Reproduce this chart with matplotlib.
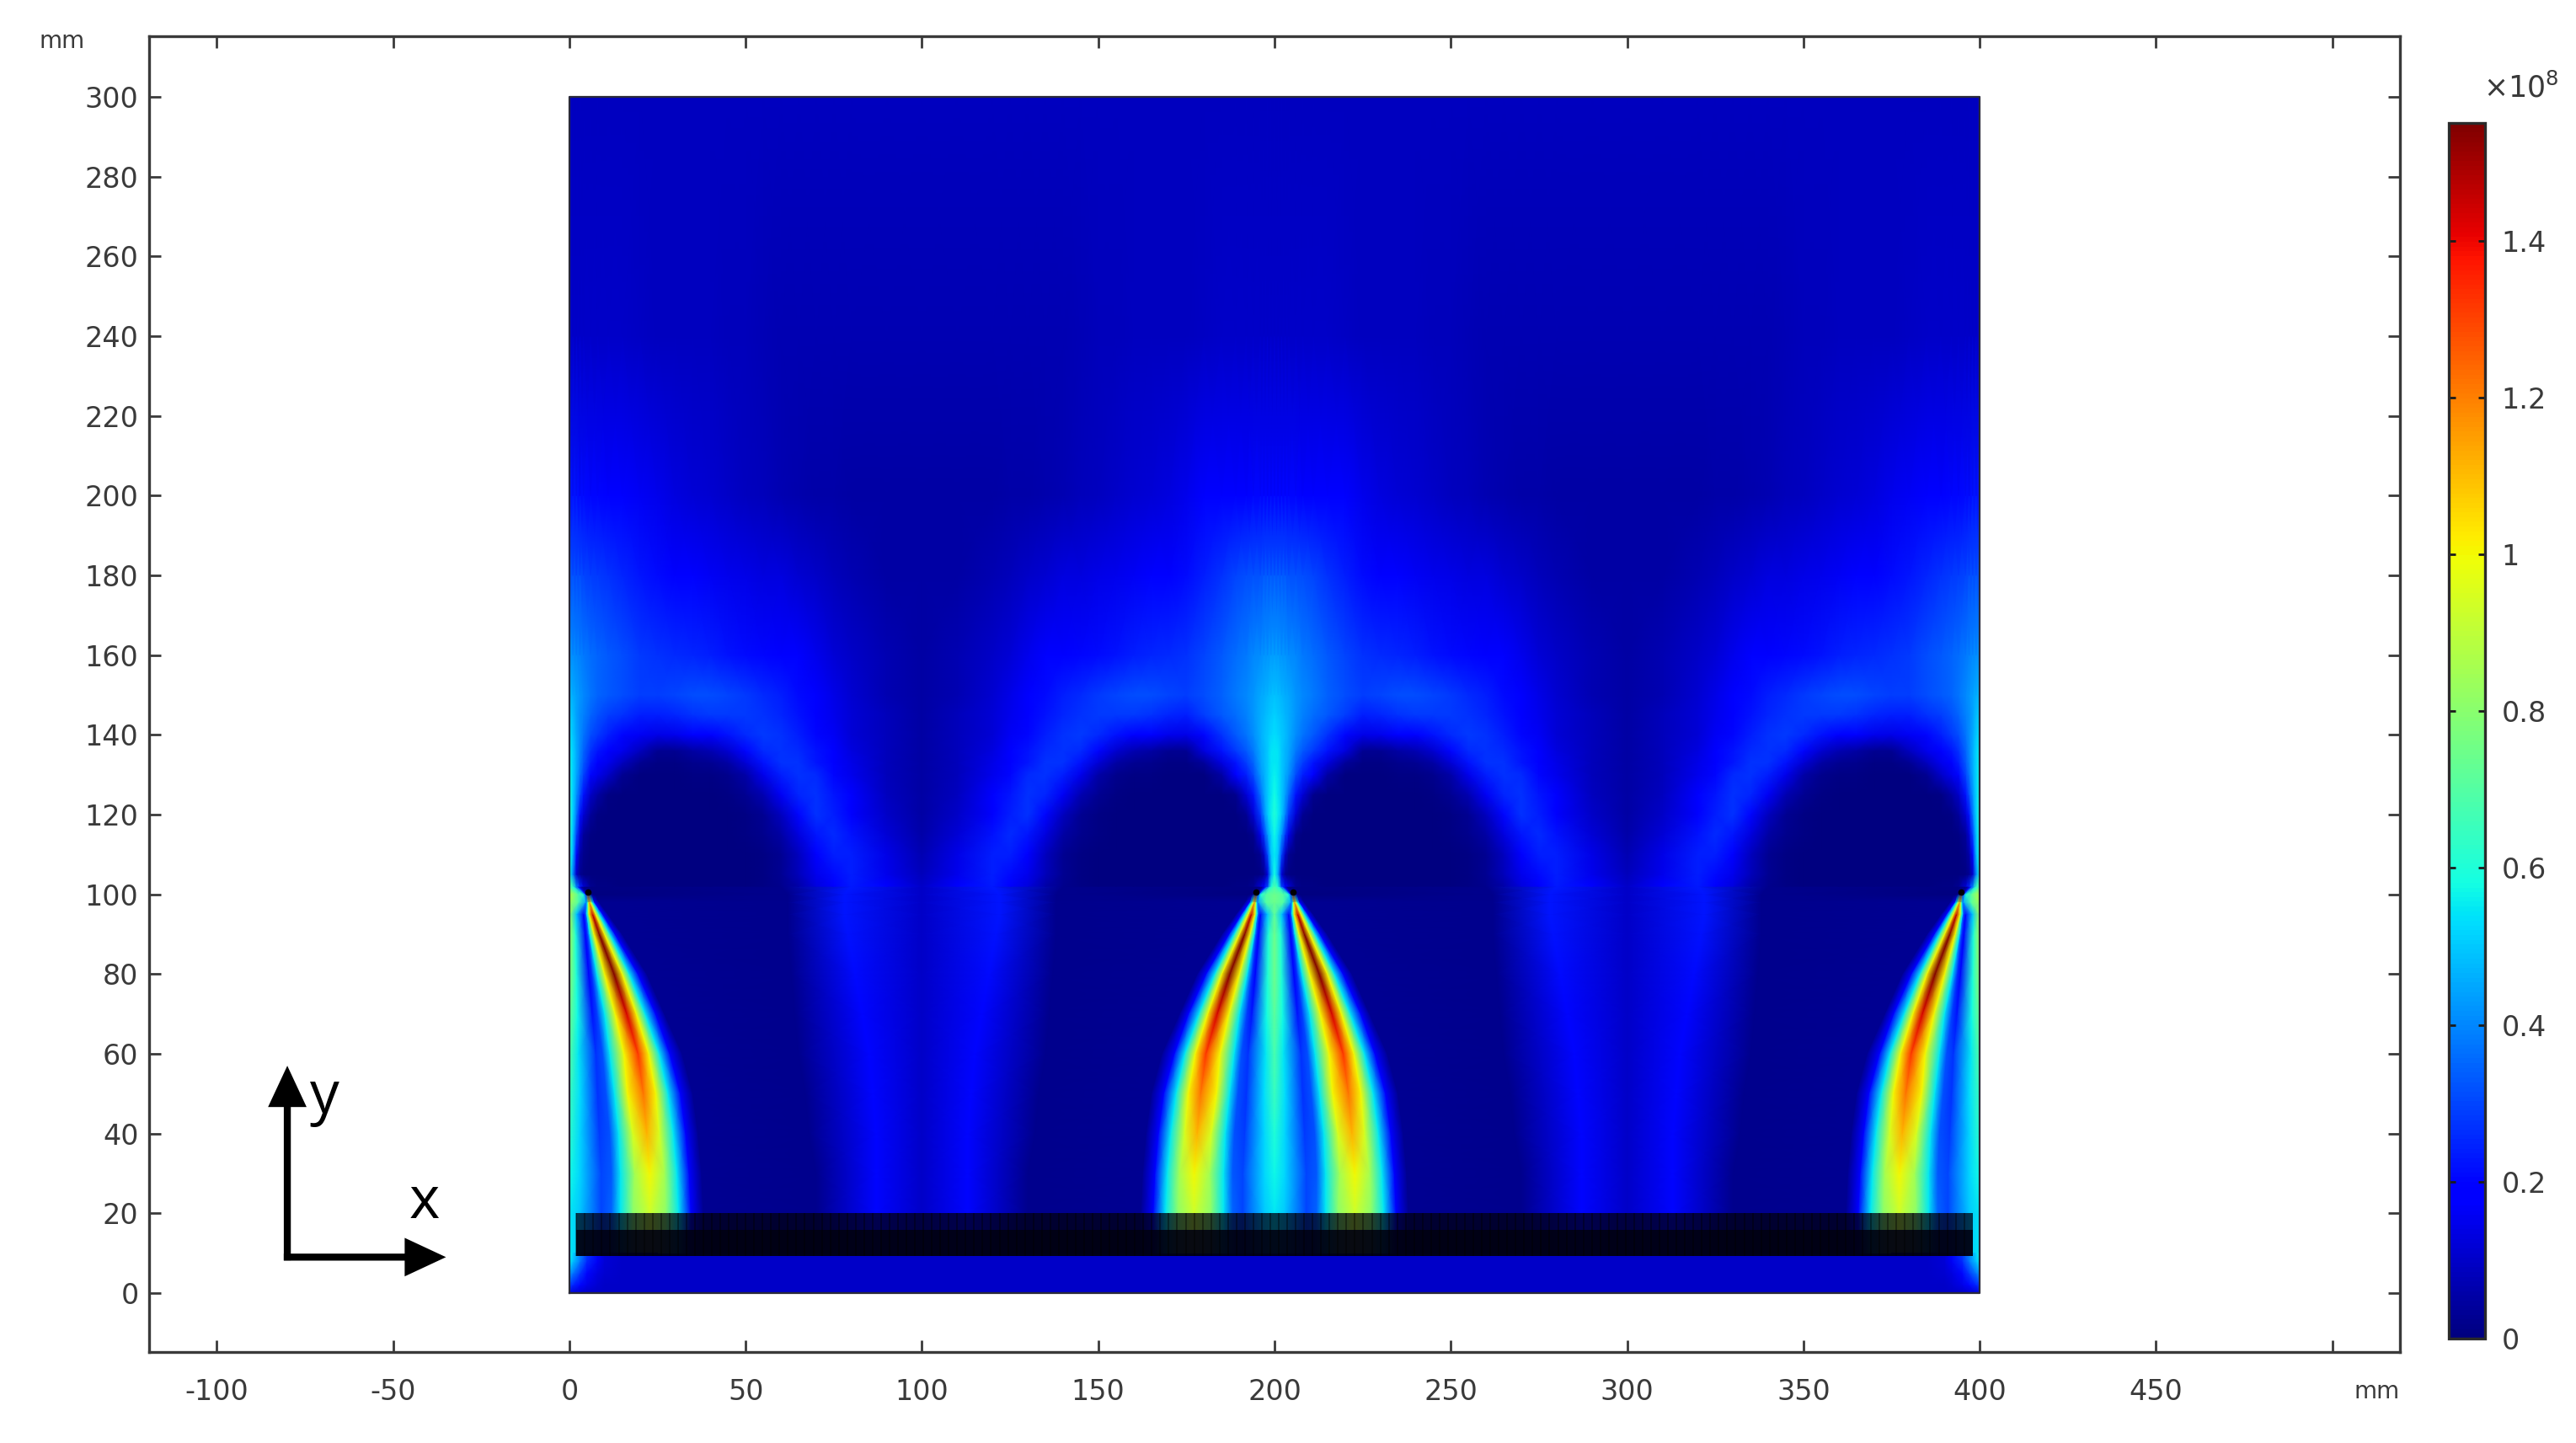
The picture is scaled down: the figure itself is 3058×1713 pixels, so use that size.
import numpy as np
import matplotlib
matplotlib.use('Agg')
import matplotlib.pyplot as plt

W, H = 3058, 1713
VMAX = 1.55
TEXT_COLOR = '#3a3a3a'

x_ticks = list(range(-100, 501, 50))
x_tick_labels = [str(v) for v in x_ticks[:-1]] + ['']
y_ticks = list(range(0, 301, 20))
cbar_ticks = [0, 0.2, 0.4, 0.6, 0.8, 1.0, 1.2, 1.4]
cbar_labels = ['0', '0.2', '0.4', '0.6', '0.8', '1', '1.2', '1.4']

# below y=102 the mesh follows the plume: each row lists where the features sit,
# as distance from the cell wall (x=0, 200, 400), then the value at each feature
lower_y = [10, 20, 30, 40, 50, 60, 70, 80, 90, 95, 98, 100, 102]
lower_pos = [
    [0, 3.0, 9.0, 12.0, 14.5, 18.0, 22.8, 27.5, 31.0, 34.5, 38.0, 70, 87, 100],
    [0, 3.0, 9.0, 12.0, 14.5, 18.0, 22.8, 27.5, 31.0, 34.5, 38.0, 70, 87, 100],
    [0, 3.0, 9.0, 12.0, 14.5, 18.5, 22.8, 27.0, 30.5, 34.0, 37.5, 70, 87, 100],
    [0, 3.0, 8.5, 11.5, 14.0, 18.0, 22.0, 25.5, 29.5, 33.0, 36.5, 68, 87, 100],
    [0, 3.0, 8.0, 10.5, 12.8, 16.5, 21.0, 24.5, 28.0, 31.5, 35.0, 67, 86, 100],
    [0, 2.5, 7.5, 9.5, 11.5, 15.5, 19.5, 22.5, 25.5, 28.5, 32.0, 65, 85, 100],
    [0, 2.3, 6.5, 8.0, 10.0, 13.0, 16.3, 19.0, 21.5, 24.5, 27.0, 64, 83, 100],
    [0, 2.0, 5.5, 6.5, 7.8, 10.0, 12.7, 15.0, 17.0, 19.5, 22.0, 63, 81, 100],
    [0, 1.8, 4.5, 5.2, 5.8, 7.0, 8.5, 10.0, 11.5, 13.0, 15.0, 62, 79, 100],
    [0, 2.0, 4.0, 4.6, 5.0, 5.6, 6.6, 7.5, 8.5, 9.5, 11.0, 62, 78, 100],
    [0, 2.5, 4.5, 4.9, 5.1, 5.4, 5.7, 6.1, 6.6, 7.2, 8.5, 62, 78, 100],
    [0, 2.5, 4.0, 4.6, 4.8, 5.0, 5.3, 5.6, 6.0, 6.5, 7.5, 62, 78, 100],
    [0, 1.0, 2.0, 2.5, 3.0, 3.5, 4.0, 4.5, 5.0, 5.5, 6.5, 60, 80, 100],
]
lower_vals = [
    [.50, .30, .35, .55, .80, .93, .80, .55, .17, .03, .02, .20, .10],
    [.50, .30, .35, .55, .80, .93, .80, .55, .17, .03, .02, .20, .10],
    [.52, .30, .33, .55, .85, 1.0, .85, .55, .17, .03, .02, .20, .10],
    [.52, .28, .32, .55, .95, 1.12, .95, .55, .17, .03, .02, .20, .10],
    [.53, .27, .32, .55, 1.0, 1.22, 1.0, .55, .17, .03, .02, .20, .10],
    [.55, .27, .32, .55, 1.0, 1.32, 1.0, .55, .17, .03, .02, .20, .10],
    [.58, .22, .30, .55, 1.0, 1.43, 1.0, .55, .17, .03, .02, .20, .10],
    [.60, .17, .28, .55, 1.0, 1.55, 1.0, .55, .17, .03, .02, .21, .10],
    [.60, .17, .28, .55, 1.0, 1.55, 1.0, .55, .17, .03, .02, .22, .10],
    [.50, .20, .30, .55, 1.0, 1.45, 1.0, .55, .17, .03, .02, .23, .10],
    [.70, .45, .40, .60, .90, 1.10, .90, .55, .17, .03, .02, .23, .10],
    [.70, .60, .30, .10, .02, 0, 0, 0, 0, 0, .02, .23, .10],
    [.60, .30, .20, .12, .06, .03, .02, .01, .01, .01, .02, .235, .10],
]
lower_core_mid = [.55, .55, .57, .60, .65, .68, .72, .75, .75, .72, .75, .75, .68]
lower_core_edge = [.55, .55, .58, .62, .65, .70, .75, .80, .85, .85, .85, .90, .72]

upper_y = [102, 105, 110, 115, 120, 125, 130, 133, 136, 140, 145, 150, 160, 180, 200, 240, 300]
near_d = [0, 1, 2, 3, 4, 6, 8, 11, 15, 20]
far_d = [25, 30, 35, 40, 45, 50, 55, 60, 65, 70, 75, 80, 90, 100]
near_mid = [
    [.68, .60, .30, .20, .12, .03, .01, .01, 0, 0],
    [.58, .45, .12, .03, .01, 0, 0, 0, 0, 0],
    [.55, .50, .30, .10, .03, 0, 0, 0, 0, 0],
    [.57, .52, .42, .28, .14, .02, 0, 0, 0, 0],
    [.60, .56, .50, .40, .28, .12, .03, 0, 0, 0],
    [.58, .55, .50, .44, .36, .22, .12, .02, 0, 0],
    [.56, .54, .50, .46, .42, .31, .24, .17, .05, 0],
    [.55, .54, .50, .47, .44, .35, .29, .22, .13, .04],
    [.55, .54, .50, .47, .45, .38, .33, .28, .22, .13],
    [.53, .52, .50, .48, .46, .41, .37, .33, .27, .20],
    [.51, .50, .49, .47, .46, .42, .39, .36, .33, .29],
    [.49, .48, .47, .46, .45, .42, .40, .38, .34, .31],
    [.43, .43, .42, .42, .41, .40, .38, .36, .33, .30],
    [.33, .33, .33, .33, .32, .32, .31, .30, .27, .24],
    [.20, .20, .20, .20, .20, .20, .19, .19, .18, .17],
    [.10, .10, .10, .10, .10, .10, .10, .10, .10, .095],
    [.09, .09, .09, .09, .09, .09, .09, .09, .09, .09],
]
near_edge = [
    [.72, .65, .40, .25, .12, .03, .01, .01, 0, 0],
    [.60, .40, .10, .03, .01, 0, 0, 0, 0, 0],
    [.58, .48, .20, .06, .02, 0, 0, 0, 0, 0],
    [.60, .50, .30, .12, .04, .01, 0, 0, 0, 0],
    [.62, .52, .38, .22, .12, .04, .01, 0, 0, 0],
    [.60, .52, .42, .32, .22, .10, .05, .01, 0, 0],
    [.58, .52, .45, .37, .30, .20, .15, .10, .03, 0],
    [.57, .52, .46, .39, .33, .24, .19, .15, .09, .03],
    [.56, .52, .46, .40, .35, .27, .23, .19, .15, .09],
    [.54, .50, .45, .41, .37, .31, .28, .24, .20, .16],
    [.51, .48, .44, .41, .39, .35, .32, .29, .27, .24],
    [.48, .46, .44, .42, .40, .37, .35, .33, .31, .29],
    [.42, .41, .40, .39, .38, .36, .35, .33, .31, .28],
    [.32, .32, .31, .31, .30, .29, .28, .27, .25, .23],
    [.22, .22, .22, .21, .21, .20, .20, .19, .18, .16],
    [.10, .10, .10, .10, .10, .10, .10, .10, .10, .095],
    [.09, .09, .09, .09, .09, .09, .09, .09, .09, .09],
]
far_vals = [
    [0, 0, 0, 0, 0, 0, .01, .02, .06, .13, .19, .235, .17, .10],
    [0, 0, 0, 0, 0, 0, .01, .03, .08, .15, .21, .24, .15, .08],
    [0, 0, 0, 0, 0, 0, .01, .03, .09, .18, .24, .24, .14, .07],
    [0, 0, 0, 0, 0, .01, .02, .05, .13, .23, .26, .22, .12, .06],
    [0, 0, 0, 0, 0, .01, .03, .09, .20, .27, .24, .19, .10, .05],
    [0, 0, 0, 0, .01, .03, .07, .16, .25, .27, .23, .17, .09, .05],
    [0, 0, .01, .01, .02, .06, .15, .24, .27, .26, .20, .15, .08, .05],
    [.01, .01, .02, .03, .05, .12, .22, .27, .27, .23, .18, .14, .08, .05],
    [.03, .03, .05, .07, .11, .20, .26, .27, .26, .22, .17, .13, .08, .05],
    [.14, .15, .18, .19, .22, .26, .28, .27, .24, .20, .16, .12, .08, .05],
    [.24, .25, .27, .28, .28, .28, .27, .25, .22, .19, .15, .12, .08, .05],
    [.29, .30, .31, .31, .30, .28, .26, .24, .21, .18, .14, .11, .07, .05],
    [.27, .26, .25, .24, .22, .21, .20, .19, .17, .15, .12, .10, .07, .05],
    [.21, .19, .17, .16, .15, .14, .13, .13, .11, .10, .08, .07, .05, .05],
    [.15, .13, .12, .11, .10, .09, .08, .07, .065, .06, .055, .05, .05, .05],
    [.09, .09, .085, .085, .08, .08, .075, .07, .07, .07, .07, .07, .07, .07],
    [.09, .09, .09, .09, .09, .09, .09, .09, .09, .09, .09, .09, .09, .09],
]

# strip under the coils, corners are brighter near the side walls
floor_y = [0, 2, 5, 8, 10]
floor_d = [0, 1, 3, 5, 8, 10, 15, 25]
floor_vals = [
    [.12, .12, .11, .10, .10, .10, .10, .10],
    [.28, .25, .20, .14, .11, .10, .10, .10],
    [.42, .38, .28, .20, .13, .11, .10, .10],
    [.55, .50, .38, .26, .16, .12, .10, .10],
    [.58, .52, .40, .28, .17, .12, .10, .10],
]
floor_level = 0.10

node_x = [5.3, 194.7, 205.3, 394.7]
node_y = [100.5, 100.5, 100.5, 100.5]


def draw_cell(ax, wall, sign, pos, ys, vals, norm):
    # one quarter of the field, mirrored away from its wall
    pos = np.asarray(pos, dtype=float)
    X = wall + sign * pos
    Y = np.repeat(np.asarray(ys, dtype=float)[:, None], pos.shape[1], axis=1)
    return ax.pcolormesh(X, Y, np.asarray(vals, dtype=float), shading='gouraud',
                         cmap='jet', norm=norm, rasterized=True)


fig = plt.figure(figsize=(W / 100, H / 100), dpi=100, facecolor='white')
ax = fig.add_axes([177 / W, 1 - 1605 / H, (2849 - 177) / W, (1605 - 43) / H])
ax.set_xlim(-119.2, 519.2)
ax.set_ylim(-14.8, 315.2)

norm = plt.Normalize(0, VMAX)
ax.pcolormesh([0, 400], [0, 10], [[floor_level] * 2] * 2, shading='gouraud', cmap='jet', norm=norm)

upper_d = near_d + far_d
cells = [(0, 1, lower_core_edge, near_edge), (200, -1, lower_core_mid, near_mid),
         (200, 1, lower_core_mid, near_mid), (400, -1, lower_core_edge, near_edge)]
for wall, sign, core, near in cells:
    low = [[c] + row for c, row in zip(core, lower_vals)]
    mesh = draw_cell(ax, wall, sign, lower_pos, lower_y, low, norm)
    upper = [a + b for a, b in zip(near, far_vals)]
    draw_cell(ax, wall, sign, [upper_d] * len(upper_y), upper_y, upper, norm)
for wall, sign in [(0, 1), (400, -1)]:
    draw_cell(ax, wall, sign, [floor_d] * len(floor_y), floor_y, floor_vals, norm)

# coil strip: dark blocks with thin vertical mesh lines
ax.fill_between([2, 398], 9.3, 15.8, color='#000010', alpha=0.96, lw=0, zorder=3)
ax.fill_between([2, 398], 15.8, 20, color='#000010', alpha=0.74, lw=0, zorder=3)
ax.vlines(np.arange(2, 398, 2.4), 9.3, 20, color='black', alpha=0.45, lw=1.2, zorder=3)

ax.scatter(node_x, node_y, s=30, color='black', lw=0, zorder=4)
ax.plot([0, 400, 400, 0, 0], [0, 0, 300, 300, 0], color='#2a2a3a', lw=1.6, zorder=5)

ax.set_xticks(x_ticks)
ax.set_xticklabels(x_tick_labels)
ax.set_yticks(y_ticks)
ax.tick_params(axis='both', direction='in', length=10, width=2, color=TEXT_COLOR,
               labelcolor=TEXT_COLOR, labelsize=24, top=True, right=True)
ax.tick_params(axis='x', pad=22)
ax.tick_params(axis='y', pad=9)
for s in ax.spines.values():
    s.set_linewidth(2.4)
    s.set_color(TEXT_COLOR)

fig.text(74 / W, 1 - 49 / H, 'mm', fontsize=20, color=TEXT_COLOR, ha='center', va='center')
fig.text(2822 / W, 1 - 1652 / H, 'mm', fontsize=20, color=TEXT_COLOR, ha='center', va='center')

# coordinate arrows
arrow = dict(arrowstyle='-|>,head_width=0.42,head_length=0.9', color='black', lw=6,
             mutation_scale=28, shrinkA=0, shrinkB=0, capstyle='butt', joinstyle='miter')
ax.annotate('', xy=(-80, 57), xytext=(-80, 8.2), arrowprops=arrow)
ax.annotate('', xy=(-35, 9), xytext=(-81, 9), arrowprops=arrow)
ax.text(-69.5, 49, 'y', fontsize=50, family='Open Sans', color='black', ha='center', va='center')
ax.text(-41, 22.5, 'x', fontsize=50, family='Open Sans', color='black', ha='center', va='center')

cax = fig.add_axes([2907 / W, 1 - 1589 / H, 43 / W, (1589 - 146) / H])
cbar = fig.colorbar(mesh, cax=cax, ticks=cbar_ticks)
cbar.ax.set_yticklabels(cbar_labels)
cbar.ax.tick_params(direction='in', length=6, width=2, color='#1a1a1a', labelcolor=TEXT_COLOR,
                    labelsize=24, left=True, right=True, pad=14)
cbar.outline.set_linewidth(2.4)
cbar.outline.set_edgecolor('#2a2a2a')
fig.text(2948 / W, 1 - 104 / H, r'×10$^{8}$', fontsize=25, color=TEXT_COLOR, ha='left', va='center')

fig.savefig('out.png', dpi=100)
